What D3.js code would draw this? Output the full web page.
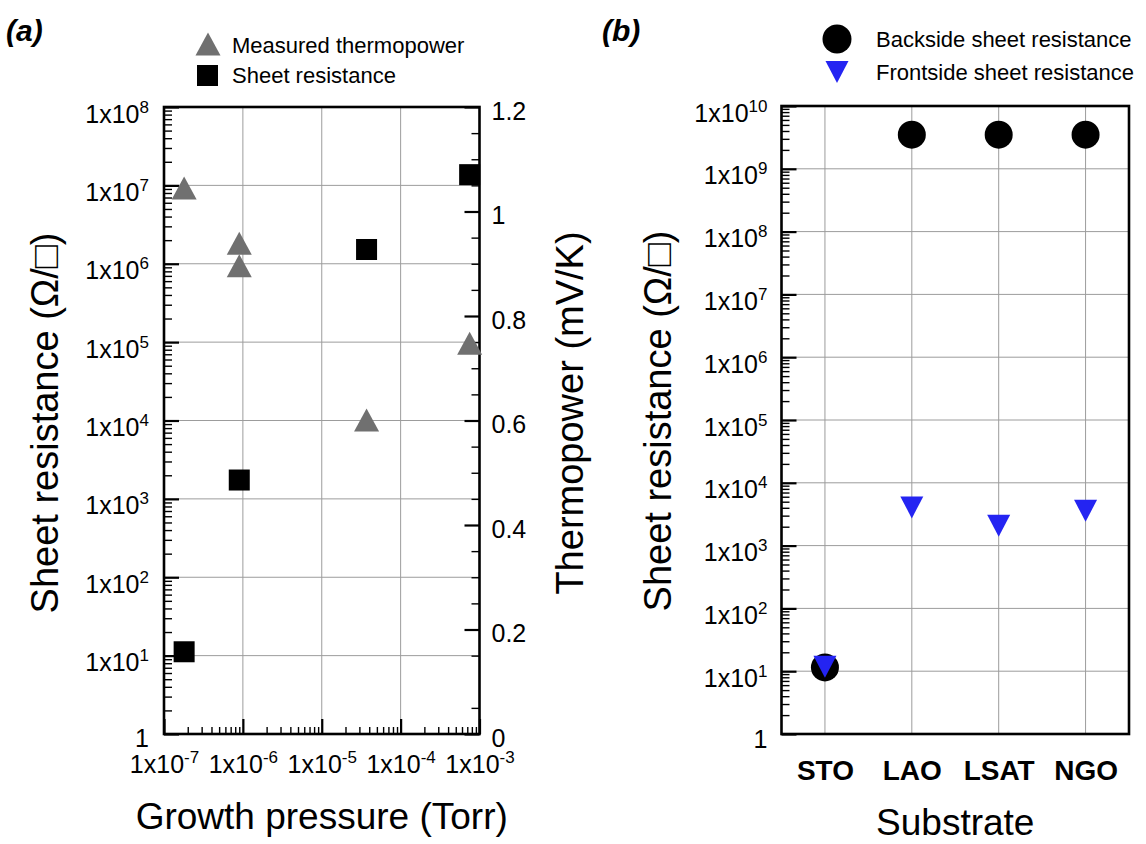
<!DOCTYPE html>
<html>
<head>
<meta charset="utf-8">
<script src="https://cdn.jsdelivr.net/npm/d3@7"></script>
<style>
  body { margin: 0; background: #fff; }
  text { font-family: "Liberation Sans", Arial, Helvetica, sans-serif; fill: #000; }
</style>
</head>
<body>
<script>
const W = 1146;
const H = 844;

// panel (a): growth pressure series
const triPressure = [1.8e-7, 9e-7, 9e-7, 3.7e-5, 7.5e-4];
const thermopower = [1.045, 0.939, 0.896, 0.601, 0.748];
const sqPressure = [1.8e-7, 9e-7, 3.7e-5, 7.5e-4];
const sheetRes = [11.2, 1740, 1.52e6, 1.37e7];

const pressureDecades = [-7, -6, -5, -4, -3];
const resDecadesA = [0, 1, 2, 3, 4, 5, 6, 7, 8];
const thermoTicks = [0, 0.2, 0.4, 0.6, 0.8, 1.0, 1.2];
const thermoLabels = ["0", "0.2", "0.4", "0.6", "0.8", "1", "1.2"];

// panel (b): substrates
const substrates = ["STO", "LAO", "LSAT", "NGO"];
const backside = [11.5, 3.5e9, 3.5e9, 3.5e9];
const frontside = [11.8, 4060, 2070, 3580];
const resDecadesB = [0, 1, 2, 3, 4, 5, 6, 7, 8, 9, 10];

const gray = "#707070";
const blue = "#2424f2";
const gridCol = "#9c9c9c";

let svg = d3.select("body").append("svg")
  .attr("width", W).attr("height", H);
svg.append("rect").attr("width", W).attr("height", H).attr("fill", "#fff");

// helpers
function minorLog(decs) {
  let out = [];
  for (let i = 0; i < decs.length - 1; i++)
    for (let k = 2; k <= 9; k++) out.push(k * Math.pow(10, decs[i]));
  return out;
}
function powLabel(sel) {
  sel.each(function(d) {
    let e = Math.round(Math.log10(d));
    let t = d3.select(this).text(null);
    if (e === 0) { t.append("tspan").text("1"); return; }
    t.append("tspan").text("1x10");
    t.append("tspan").attr("dy", -10).attr("font-size", 17).text(e);
  });
}
function upTri(w, h) { return `M0,${-h/2}L${w/2},${h/2}L${-w/2},${h/2}Z`; }
function downTri(w, h) { return `M0,${h/2}L${w/2},${-h/2}L${-w/2},${-h/2}Z`; }
function styleTicks(g, width) {
  g.select(".domain").remove();
  g.selectAll("line").attr("stroke", "#000").attr("stroke-width", width);
  g.selectAll("text").attr("font-size", 25).attr("fill", "#000");
}

// ---------------- panel (a) ----------------
const a = { l: 164, r: 479.5, t: 107, b: 734 };
let xa = d3.scaleLog().domain([1e-7, 1e-3]).range([a.l, a.r]);
let ya = d3.scaleLog().domain([1, 1e8]).range([a.b, a.t]);
let yt = d3.scaleLinear().domain([0, 1.2]).range([a.b, a.t]);

let ga = svg.append("g");

// grid
ga.selectAll(".hgrid").data(resDecadesA.slice(1, -1)).enter().append("line")
  .attr("x1", a.l).attr("x2", a.r)
  .attr("y1", d => ya(Math.pow(10, d))).attr("y2", d => ya(Math.pow(10, d)))
  .attr("stroke", gridCol).attr("stroke-width", 1);
ga.selectAll(".vgrid").data(pressureDecades.slice(1, -1)).enter().append("line")
  .attr("y1", a.t).attr("y2", a.b)
  .attr("x1", d => xa(Math.pow(10, d))).attr("x2", d => xa(Math.pow(10, d)))
  .attr("stroke", gridCol).attr("stroke-width", 1);

// left axis
let la = ga.append("g").attr("transform", `translate(${a.l},0)`)
  .call(d3.axisLeft(ya).tickValues(resDecadesA.map(d => Math.pow(10, d)))
    .tickSize(-15).tickPadding(15));
styleTicks(la, 2.2);
la.selectAll("text").attr("dy", null).attr("y", d => d === 1 ? 12 : 15).call(powLabel);
let lam = ga.append("g").attr("transform", `translate(${a.l},0)`)
  .call(d3.axisLeft(ya).tickValues(minorLog(resDecadesA)).tickSize(-8).tickFormat(""));
styleTicks(lam, 1.4);

// bottom axis
let ba = ga.append("g").attr("transform", `translate(0,${a.b})`)
  .call(d3.axisBottom(xa).tickValues(pressureDecades.map(d => Math.pow(10, d)))
    .tickSize(-15));
styleTicks(ba, 2.2);
ba.selectAll("text").attr("dy", null).attr("y", 39).call(powLabel);
let bam = ga.append("g").attr("transform", `translate(0,${a.b})`)
  .call(d3.axisBottom(xa).tickValues(minorLog(pressureDecades)).tickSize(-7).tickFormat(""));
styleTicks(bam, 1.4);

// right axis (thermopower)
let ra = ga.append("g").attr("transform", `translate(${a.r},0)`)
  .call(d3.axisRight(yt).tickValues(thermoTicks).tickSize(-15).tickPadding(12)
    .tickFormat((d, i) => thermoLabels[i]));
styleTicks(ra, 2.2);
ra.selectAll("text").attr("dy", null).attr("y", 12);
let ram = ga.append("g").attr("transform", `translate(${a.r},0)`)
  .call(d3.axisRight(yt).tickValues(d3.range(1, 24, 2).map(k => k * 0.05).concat(d3.range(1, 6).map(k => k * 0.2 + 0.1).filter(v => v < 1.2)))
    .tickSize(-8).tickFormat(""));
styleTicks(ram, 1.4);

// frame
ga.append("rect").attr("x", a.l).attr("y", a.t)
  .attr("width", a.r - a.l).attr("height", a.b - a.t)
  .attr("fill", "none").attr("stroke", "#000").attr("stroke-width", 2.6);

// data
ga.selectAll(".sq").data(sqPressure).enter().append("rect")
  .attr("x", d => xa(d) - 10.5)
  .attr("y", (d, i) => ya(sheetRes[i]) - 10.5)
  .attr("width", 21).attr("height", 21).attr("fill", "#000");
ga.selectAll(".tri").data(triPressure).enter().append("path")
  .attr("d", upTri(25, 23))
  .attr("transform", (d, i) => `translate(${xa(d)},${yt(thermopower[i])})`)
  .attr("fill", gray);

// axis titles
ga.append("text").attr("transform", `translate(58,423) rotate(-90)`)
  .attr("text-anchor", "middle").attr("font-size", 38).text("Sheet resistance (Ω/□)");
ga.append("text").attr("transform", `translate(583,413) rotate(-90)`)
  .attr("text-anchor", "middle").attr("font-size", 38).text("Thermopower (mV/K)");
ga.append("text").attr("x", (a.l + a.r) / 2).attr("y", 829)
  .attr("text-anchor", "middle").attr("font-size", 37).text("Growth pressure (Torr)");

// legend
ga.append("path").attr("d", upTri(25, 23)).attr("transform", "translate(208,44)").attr("fill", gray);
ga.append("text").attr("x", 232).attr("y", 53).attr("font-size", 22).text("Measured thermopower");
ga.append("rect").attr("x", 197).attr("y", 65).attr("width", 21).attr("height", 21).attr("fill", "#000");
ga.append("text").attr("x", 232).attr("y", 83).attr("font-size", 22).text("Sheet resistance");

ga.append("text").attr("x", 6).attr("y", 41).attr("font-size", 30)
  .attr("font-weight", "bold").attr("font-style", "italic").text("(a)");

// ---------------- panel (b) ----------------
const b = { l: 781.5, r: 1129, t: 106, b: 734 };
let xb = d3.scalePoint().domain(substrates).range([b.l, b.r]).padding(0.5);
let yb = d3.scaleLog().domain([1, 1e10]).range([b.b, b.t]);

let gb = svg.append("g");

gb.selectAll(".hgrid").data(resDecadesB.slice(1, -1)).enter().append("line")
  .attr("x1", b.l).attr("x2", b.r)
  .attr("y1", d => yb(Math.pow(10, d))).attr("y2", d => yb(Math.pow(10, d)))
  .attr("stroke", gridCol).attr("stroke-width", 1);
gb.selectAll(".vgrid").data(substrates).enter().append("line")
  .attr("y1", b.t).attr("y2", b.b)
  .attr("x1", d => xb(d)).attr("x2", d => xb(d))
  .attr("stroke", gridCol).attr("stroke-width", 1);

let lb = gb.append("g").attr("transform", `translate(${b.l},0)`)
  .call(d3.axisLeft(yb).tickValues(resDecadesB.map(d => Math.pow(10, d)))
    .tickSize(-15).tickPadding(14));
styleTicks(lb, 2.2);
lb.selectAll("text").attr("dy", null).attr("y", d => d === 1 ? 13 : 15).call(powLabel);
let lbm = gb.append("g").attr("transform", `translate(${b.l},0)`)
  .call(d3.axisLeft(yb).tickValues(minorLog(resDecadesB)).tickSize(-8).tickFormat(""));
styleTicks(lbm, 1.4);

let bb = gb.append("g").attr("transform", `translate(0,${b.b})`)
  .call(d3.axisBottom(xb).tickSize(0));
styleTicks(bb, 0);
bb.selectAll("line").remove();
bb.selectAll("text").attr("dy", null).attr("y", 46)
  .attr("font-size", 28).attr("font-weight", "bold");

gb.append("rect").attr("x", b.l).attr("y", b.t)
  .attr("width", b.r - b.l).attr("height", b.b - b.t)
  .attr("fill", "none").attr("stroke", "#000").attr("stroke-width", 2.6);

gb.selectAll(".dot").data(substrates).enter().append("circle")
  .attr("cx", d => xb(d)).attr("cy", (d, i) => yb(backside[i]))
  .attr("r", 14).attr("fill", "#000");
gb.selectAll(".dtri").data(substrates).enter().append("path")
  .attr("d", downTri(23, 22))
  .attr("transform", (d, i) => `translate(${xb(d)},${yb(frontside[i])})`)
  .attr("fill", blue);

gb.append("text").attr("transform", `translate(671,421) rotate(-90)`)
  .attr("text-anchor", "middle").attr("font-size", 38).text("Sheet resistance (Ω/□)");
gb.append("text").attr("x", (b.l + b.r) / 2).attr("y", 835)
  .attr("text-anchor", "middle").attr("font-size", 37).text("Substrate");

gb.append("circle").attr("cx", 837).attr("cy", 39).attr("r", 14.5).attr("fill", "#000");
gb.append("text").attr("x", 876).attr("y", 47).attr("font-size", 22).text("Backside sheet resistance");
gb.append("path").attr("d", downTri(23, 22)).attr("transform", "translate(837,72)").attr("fill", blue);
gb.append("text").attr("x", 876).attr("y", 80).attr("font-size", 22).text("Frontside sheet resistance");

gb.append("text").attr("x", 602).attr("y", 41).attr("font-size", 30)
  .attr("font-weight", "bold").attr("font-style", "italic").text("(b)");
</script>
</body>
</html>
